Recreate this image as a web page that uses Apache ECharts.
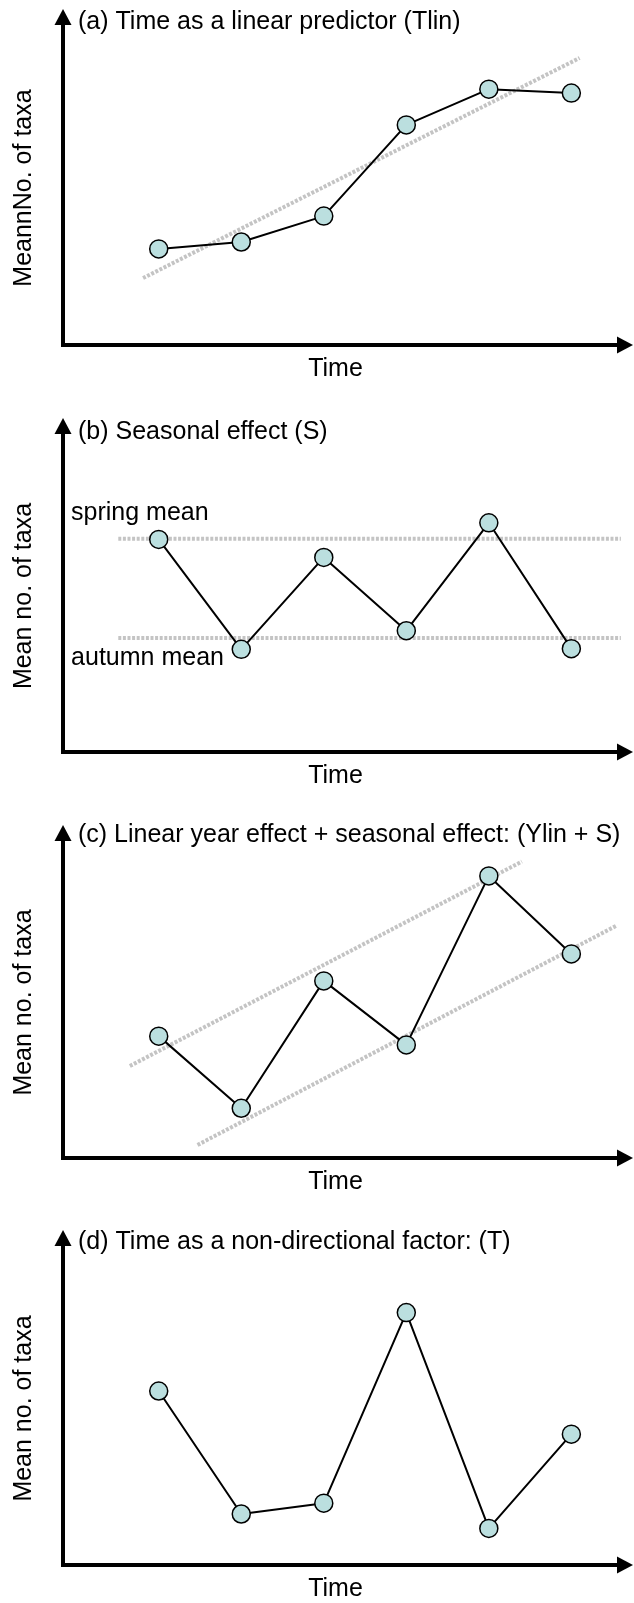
<!DOCTYPE html>
<html>
<head>
<meta charset="utf-8">
<script src="https://cdn.jsdelivr.net/npm/echarts@6/dist/echarts.min.js"></script>
<style>
html,body{margin:0;padding:0;background:#fff;}
#chart{width:634px;height:1603px;}
</style>
</head>
<body>
<div id="chart"></div>
<script>
// ---- data (arbitrary units) ----
const timePoints = [1, 2, 3, 4, 5, 6];
const panelTitles = [
  '(a) Time as a linear predictor (Tlin)',
  '(b) Seasonal effect (S)',
  '(c) Linear year effect + seasonal effect: (Ylin + S)',
  '(d) Time as a non-directional factor: (T)'
];
const yAxisNames = ['MeannNo. of taxa', 'Mean no. of taxa', 'Mean no. of taxa', 'Mean no. of taxa'];
const xAxisName = 'Time';

const valuesA = [2.93, 3.14, 3.93, 6.71, 7.80, 7.68];
const trendA = [[0.81, 2.04], [6.10, 8.75]];

const valuesB = [6.52, 3.15, 5.97, 3.72, 7.03, 3.17];
const springMean = 6.54;
const autumnMean = 3.50;
const meanLineX = [0.51, 6.60];
const meanLabels = ['spring mean', 'autumn mean'];
const meanLabelX = -0.05;

const valuesC = [3.75, 1.53, 5.45, 3.48, 8.68, 6.28];
const trendCUpper = [[0.65, 2.83], [5.40, 9.12]];
const trendCLower = [[1.47, 0.40], [6.54, 7.14]];

const valuesD = [5.32, 1.56, 1.89, 7.72, 1.12, 4.00];

// ---- styling ----
const FONT = "'Liberation Sans', Arial, sans-serif";
const POINT_FILL = '#bbdfdf';
const DOT_COLOR = '#c4c4c4';

const gridsPx = [
  {top: 17, bottom: 1258},
  {top: 426, bottom: 851},
  {top: 833, bottom: 445},
  {top: 1238, bottom: 38}
];
const titleTops = [10, 420, 823, 1230];

function pairs(vals) { return vals.map((v, i) => [timePoints[i], v]); }

const grid = gridsPx.map(g => ({left: 63, right: 9, top: g.top, bottom: g.bottom, containLabel: false}));

const axisLine = {
  show: true,
  onZero: false,
  symbol: ['none', 'triangle'],
  symbolSize: [17, 16],
  lineStyle: {color: '#000', width: 4, cap: 'square'}
};

const xAxis = grid.map((g, i) => ({
  type: 'value', gridIndex: i, min: -0.16, max: 6.65,
  axisLine: axisLine, axisTick: {show: false}, axisLabel: {show: false}, splitLine: {show: false},
  name: xAxisName, nameLocation: 'middle', nameGap: 12,
  nameTextStyle: {fontFamily: FONT, fontSize: 25, color: '#000', padding: [0, 17, 0, 0]}
}));
const yAxis = grid.map((g, i) => ({
  type: 'value', gridIndex: i, min: 0, max: 10,
  axisLine: axisLine, axisTick: {show: false}, axisLabel: {show: false}, splitLine: {show: false},
  name: yAxisNames[i], nameLocation: 'middle', nameGap: 26, nameRotate: 90,
  nameTextStyle: {fontFamily: FONT, fontSize: 25, color: '#000', padding: [0, 14, 0, 0]}
}));

const title = panelTitles.map((t, i) => ({
  text: t, left: 78, top: titleTops[i], padding: 0,
  textStyle: {fontFamily: FONT, fontSize: 25, fontWeight: 'normal', color: '#000'}
}));

function dotted(data, idx) {
  return {
    type: 'line', xAxisIndex: idx, yAxisIndex: idx, data: data, symbol: 'none', silent: true,
    lineStyle: {color: DOT_COLOR, width: 4, type: [3, 1.6], cap: 'butt'}, z: 1, animation: false
  };
}
function mainLine(vals, idx) {
  return {
    type: 'line', xAxisIndex: idx, yAxisIndex: idx, data: pairs(vals),
    symbol: 'circle', symbolSize: 18, showSymbol: true,
    lineStyle: {color: '#000', width: 2},
    itemStyle: {color: POINT_FILL, borderColor: '#000', borderWidth: 1.5},
    z: 3, animation: false
  };
}

const series = [
  dotted(trendA, 0),
  mainLine(valuesA, 0),
  dotted([[meanLineX[0], springMean], [meanLineX[1], springMean]], 1),
  dotted([[meanLineX[0], autumnMean], [meanLineX[1], autumnMean]], 1),
  {
    type: 'scatter', xAxisIndex: 1, yAxisIndex: 1, symbolSize: 2, silent: true, animation: false,
    data: [
      {value: [meanLabelX, springMean], name: meanLabels[0], label: {position: [0, -25]}},
      {value: [meanLabelX, autumnMean], name: meanLabels[1], label: {position: [0, 21]}}
    ],
    itemStyle: {color: '#fff', opacity: 0},
    label: {
      show: true, formatter: '{b}', align: 'left', verticalAlign: 'middle',
      fontFamily: FONT, fontSize: 25, color: '#000', opacity: 1, textBorderWidth: 0
    },
    z: 4
  },
  mainLine(valuesB, 1),
  dotted(trendCUpper, 2),
  dotted(trendCLower, 2),
  mainLine(valuesC, 2),
  mainLine(valuesD, 3)
];

const chart = echarts.init(document.getElementById('chart'), null, {renderer: 'canvas'});
chart.setOption({
  animation: false,
  backgroundColor: '#fff',
  title: title,
  grid: grid,
  xAxis: xAxis,
  yAxis: yAxis,
  series: series
});
</script>
</body>
</html>
